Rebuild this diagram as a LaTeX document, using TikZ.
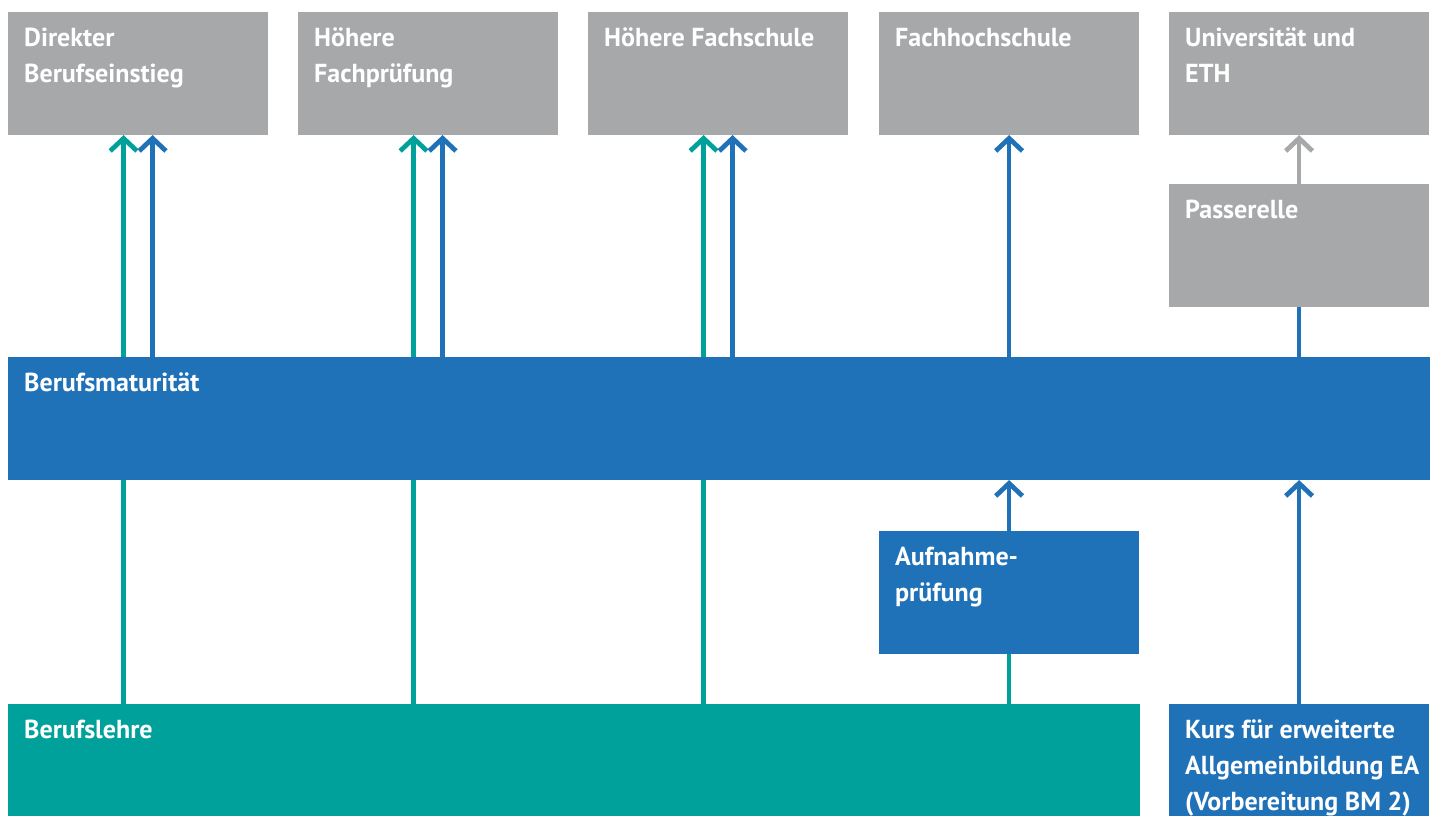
\documentclass[tikz,border=0pt]{standalone}
\usepackage{fontspec}
\setmainfont{PT Sans}
\usetikzlibrary{arrows.meta}

\definecolor{boxgray}{HTML}{A7A8AA}
\definecolor{bmblue}{HTML}{1F71B8}
\definecolor{lehreteal}{HTML}{00A19A}

\pgfdeclarelayer{background}
\pgfsetlayers{background,main}

\tikzset{
	box/.style={rectangle, anchor=north west, inner sep=0pt, outer sep=0pt, minimum width=2.6cm, minimum height=1.23cm},
	txt/.style={anchor=north west, text=white, align=left, inner xsep=4.4pt, inner ysep=4.3pt, font=\bfseries\fontsize{7.4}{10.2}\selectfont},
	pfeil/.style={line width=1.35pt, -{Straight Barb[length=3.6pt, width=7.6pt, line join=miter]}},
	linie/.style={line width=1.35pt}
}

\begin{document}
\begin{tikzpicture}[x=0.01cm, y=-0.01cm]
					\useasboundingbox (0,0) rectangle (1437,816);
					% obere Reihe: Anschlusswege
					\node[box, fill=boxgray, label={[txt]north west:{Direkter\\Berufseinstieg}}] (DB)at(8, 12) {};
					\node[box, fill=boxgray, label={[txt]north west:{Höhere\\Fachprüfung}}] (HFP)at(298, 12) {};
					\node[box, fill=boxgray, label={[txt]north west:{Höhere Fachschule}}] (HFS)at(588, 12) {};
					\node[box, fill=boxgray, label={[txt]north west:{Fachhochschule}}] (FH)at(879, 12) {};
					\node[box, fill=boxgray, label={[txt]north west:{Universität und\\ETH}}] (UNI)at(1169, 12) {};
					\node[box, fill=boxgray, label={[txt]north west:{Passerelle}}] (PAS)at(1169, 184) {};
					% Mitte
					\node[box, fill=bmblue, minimum width=14.21cm, label={[txt]north west:{Berufsmaturität}}] (BM)at(8, 357) {};
					\node[box, fill=bmblue, label={[txt]north west:{Aufnahme-\\prüfung}}] (AP)at(879, 531) {};
					% untere Reihe
					\node[box, fill=lehreteal, minimum width=11.31cm, minimum height=1.12cm, label={[txt]north west:{Berufslehre}}] (LEHRE)at(8, 704) {};
					\node[box, fill=bmblue, minimum height=1.12cm, label={[txt]north west:{Kurs für erweiterte\\Allgemeinbildung EA\\(Vorbereitung BM 2)}}] (KURS)at(1169, 704) {};

					% Berufslehre direkt nach oben, hinter der BM
					\begin{pgfonlayer}{background}
						\foreach \ziel in {DB, HFP, HFS}
							\draw[pfeil, lehreteal] ([xshift=-1.45mm]\ziel.south |- LEHRE.north) -- ([xshift=-1.45mm]\ziel.south);
					\end{pgfonlayer}
					\draw[linie, lehreteal] (AP.south |- LEHRE.north) -- (AP.south);

					% Berufsmaturität nach oben
					\foreach \ziel in {DB, HFP, HFS}
						\draw[pfeil, bmblue] ([xshift=1.45mm]\ziel.south |- BM.north) -- ([xshift=1.45mm]\ziel.south);
					\draw[pfeil, bmblue] (FH.south |- BM.north) -- (FH.south);
					\draw[linie, bmblue] (PAS.south |- BM.north) -- (PAS.south);
					\draw[pfeil, boxgray] (PAS.north) -- (UNI.south);

					% Zugang zur BM
					\draw[pfeil, bmblue] (AP.north) -- (AP.north |- BM.south);
					\draw[pfeil, bmblue] (KURS.north) -- (KURS.north |- BM.south);
				\end{tikzpicture}
\end{document}
